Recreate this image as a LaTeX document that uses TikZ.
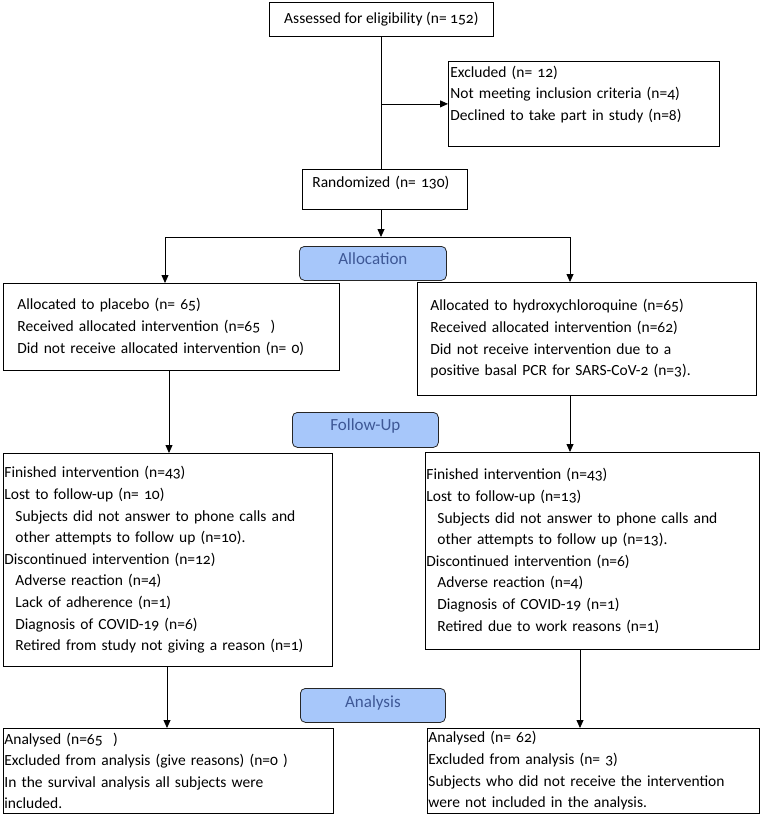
\documentclass[tikz,border=0pt]{standalone}
\usepackage{fontspec}
\setmainfont{Carlito}[Numbers=OldStyle]
\usetikzlibrary{arrows.meta}
\newcommand{\boxfont}{\fontsize{15.5}{21.6}\selectfont}
\newcommand{\stagefont}{\fontsize{17}{20}\selectfont}
\newcommand{\ind}{\hspace*{11pt}}
\begin{document}
\begin{tikzpicture}[x=1pt,y=-1pt,
  box/.style={draw=black,line width=0.8pt,rectangle,anchor=north west,inner ysep=0pt,align=left,font=\boxfont},
  stage/.style={draw=black!85,line width=0.8pt,fill=stageFill,text=stageText,rounded corners=5pt,anchor=north west,inner sep=0pt,font=\stagefont},
  flow/.style={-{Triangle[length=8pt,width=7pt]},line width=0.8pt},
  link/.style={line width=0.8pt}]
\definecolor{stageFill}{RGB}{167,199,250}
\definecolor{stageText}{RGB}{62,88,150}
\path[use as bounding box,fill=white] (0,0) rectangle (762,817);

% enrolment
\node[box,align=center,minimum width=224pt,minimum height=34pt] (assess) at (269,2) {Assessed for eligibility (n= 152)};

\node[box,inner xsep=2pt,inner ysep=2pt,text width=267pt,minimum height=85pt] (excl) at (448,61) {Excluded (n= 12)\\Not meeting inclusion criteria (n=4)\\Declined to take part in study (n=8)\\\mbox{}};

\node[box,inner xsep=10pt,text width=145pt,text height=16pt,text depth=20pt,inner ysep=2pt] (rand) at (302,169) {Randomized (n= 130)};

% stage labels
\node[stage,minimum width=147pt,minimum height=34pt,text height=18pt,text depth=16pt] (alloc) at (299,246) {Allocation};

\node[stage,minimum width=146pt,minimum height=35pt,text height=18pt,text depth=17pt] (fup) at (292,412) {Follow-Up};

\node[stage,minimum width=145pt,minimum height=34pt,text height=19pt,text depth=15pt] (ana) at (300,688) {Analysis};

% allocation
\node[box,inner xsep=14pt,text width=308pt,minimum height=87pt] (plac) at (3,283) {Allocated to placebo (n= 65)\\Received allocated intervention (n=65\ \ )\\Did not receive allocated intervention (n= 0)};

\node[box,inner xsep=13pt,text width=313pt,minimum height=113pt] (hcq) at (417,282) {Allocated to hydroxychloroquine (n=65)\\Received allocated intervention (n=62)\\Did not receive intervention due to a\\positive basal PCR for SARS-CoV-2 (n=3).};

% follow-up
\node[box,inner xsep=1pt,text width=327pt,minimum height=213pt] (fl) at (3,453) {Finished intervention (n=43)\\Lost to follow-up (n= 10)\\\ind Subjects did not answer to phone calls and\\\ind other attempts to follow up (n=10).\\Discontinued intervention (n=12)\\\ind Adverse reaction (n=4)\\\ind Lack of adherence (n=1)\\\ind Diagnosis of COVID-19 (n=6)\\\ind Retired from study not giving a reason (n=1)};

\node[box,inner xsep=1pt,text width=332pt,minimum height=197pt] (fr) at (425,452) {Finished intervention (n=43)\\Lost to follow-up (n=13)\\\ind Subjects did not answer to phone calls and\\\ind other attempts to follow up (n=13).\\Discontinued intervention (n=6)\\\ind Adverse reaction (n=4)\\\ind Diagnosis of COVID-19 (n=1)\\\ind Retired due to work reasons (n=1)};

% analysis
\node[box,inner xsep=1pt,text width=328pt,minimum height=85pt] (al) at (3,728) {Analysed (n=65\ \ )\\Excluded from analysis (give reasons) (n=0 )\\In the survival analysis all subjects were\\included.};

\node[box,inner xsep=1pt,text width=330pt,minimum height=85pt] (ar) at (427,728) {Analysed (n= 62)\\Excluded from analysis (n= 3)\\Subjects who did not receive the intervention\\were not included in the analysis.};

% connectors
\coordinate (trunk) at (381,0);
\coordinate (split) at (381,237);
\coordinate (bl) at (165,237);
\coordinate (br) at (570,237);
\coordinate (lx) at (169,0);
\coordinate (rx) at (570,0);
\coordinate (lx2) at (167,0);
\coordinate (rx2) at (580,0);

\draw[link] (trunk |- assess.south) -- (trunk |- rand.north);

\draw[flow] (trunk |- excl.west) -- (excl.west);

\draw[flow] (trunk |- rand.south) -- (split);

\draw[link] (bl) -- (br);

\draw[flow] (bl) -- (bl |- plac.north);

\draw[flow] (br) -- (br |- hcq.north);

\draw[flow] (lx |- plac.south) -- (lx |- fl.north);

\draw[flow] (rx |- hcq.south) -- (rx |- fr.north);

\draw[flow] (lx2 |- fl.south) -- (lx2 |- al.north);

\draw[flow] (rx2 |- fr.south) -- (rx2 |- ar.north);
\end{tikzpicture}
\end{document}
